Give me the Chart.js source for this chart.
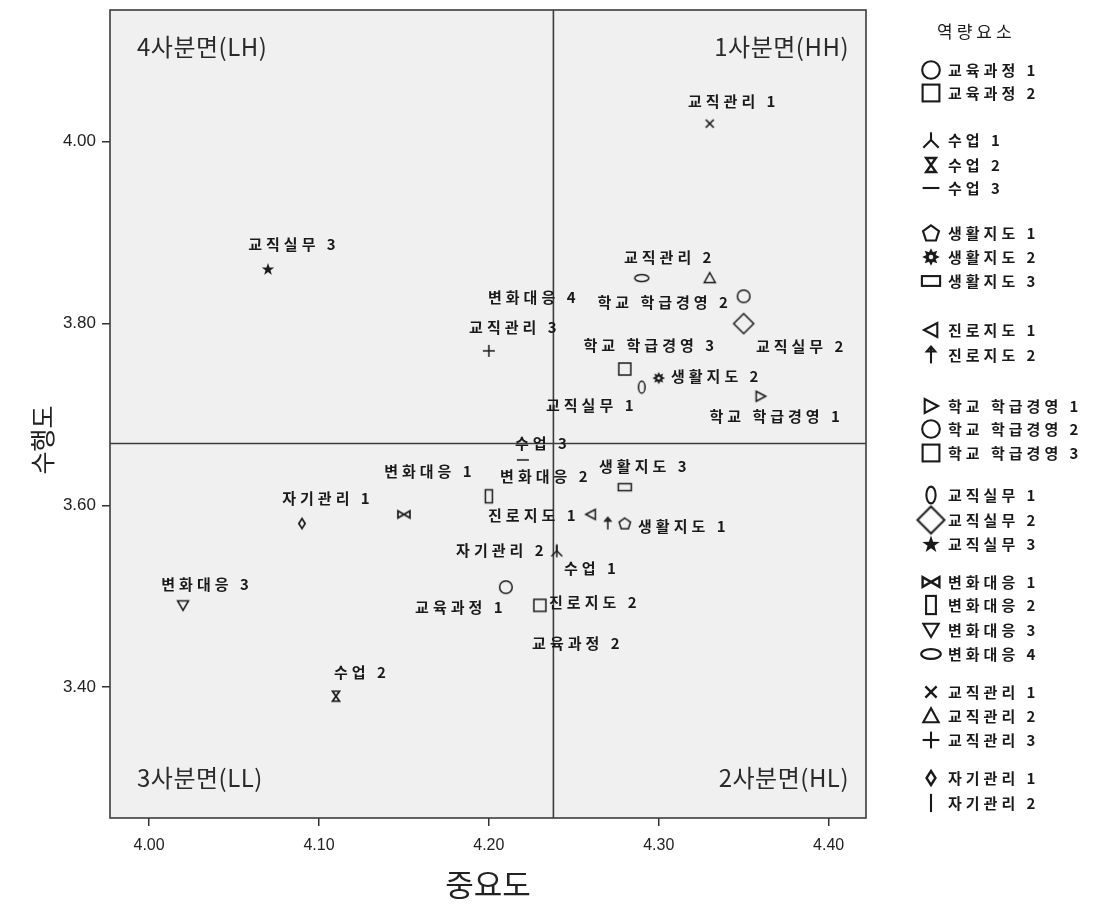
<!DOCTYPE html>
<html><head><meta charset="utf-8">
<script src="https://cdn.jsdelivr.net/npm/chart.js@4/dist/chart.umd.min.js"></script>
<style>html,body{margin:0;padding:0;background:#fff}#wrap{width:1100px;height:904px;position:relative}</style>
</head><body><div id="wrap"><canvas id="c" width="1100" height="904"></canvas></div>
<script>
// ---------- data ----------
const categories = ['교육과정 1','교육과정 2','수업 1','수업 2','수업 3','생활지도 1','생활지도 2','생활지도 3','진로지도 1','진로지도 2','학교 학급경영 1','학교 학급경영 2','학교 학급경영 3','교직실무 1','교직실무 2','교직실무 3','변화대응 1','변화대응 2','변화대응 3','변화대응 4','교직관리 1','교직관리 2','교직관리 3','자기관리 1','자기관리 2'];
const importance  = [4.21,4.23,4.24,4.11,4.22,4.28,4.30,4.28,4.26,4.27,4.36,4.35,4.28,4.29,4.35,4.07,4.15,4.20,4.02,4.29,4.33,4.33,4.20,4.09,4.24];
const performance = [3.51,3.49,3.55,3.39,3.65,3.58,3.74,3.62,3.59,3.58,3.72,3.83,3.75,3.73,3.80,3.86,3.59,3.61,3.49,3.85,4.02,3.85,3.77,3.58,3.55];
const xTicks = [4.00,4.10,4.20,4.30,4.40];
const yTicks = [3.40,3.60,3.80,4.00];
const quadrantNames = ['1사분면(HH)','2사분면(HL)','3사분면(LL)','4사분면(LH)'];
const xTitle = '중요도';
const yTitle = '수행도';
const legendTitle = '역량요소';

// ---------- styles ----------
const markerKinds = ['circle','square','lambda','hourglass','dash','pentagon','gear','flatrect','triLeft','arrow','triRight','circle','square','zero','diamond','star','bowtie','tallrect','triDown','hellipse','cross','triUp','plus','smalldiamond','vbar'];
const labelOffsets = [[-47,20],[36,38],[33,18],[24,-24],[18,-17],[57,3],[56,-2],[18,-21],[-59,1],[-15,79],[14,20],[-81,6],[24,-24],[-52,18],[56,23],[24,-25],[24,-43],[55,-20],[22,-21],[-110,19],[22,-22],[-42,-21],[24,-24],[24,-25],[-57,0]];
const legendRowsY = [70,93,140,165,188,233,257,281,330,355,406,429,453,495,520,544,582,605,630,654,692,716,740,778,803];
const INK = '#1a1a1a';
const LABEL_FONT = 'bold 15px "Noto Sans CJK KR", "Noto Sans", sans-serif';

function makeMarker(kind, s) {
  const S = Math.ceil(30 * s), c = S / 2;
  const cv = document.createElement('canvas');
  cv.width = S; cv.height = S;
  const g = cv.getContext('2d');
  g.translate(c, c); g.scale(s, s);
  g.strokeStyle = INK; g.fillStyle = INK; g.lineWidth = 1.5; g.lineJoin = 'miter';
  const poly = (pts, fill) => { g.beginPath(); pts.forEach((p, i) => i ? g.lineTo(p[0], p[1]) : g.moveTo(p[0], p[1])); g.closePath(); fill ? g.fill() : g.stroke(); };
  const line = (a, b, c2, d) => { g.beginPath(); g.moveTo(a, b); g.lineTo(c2, d); g.stroke(); };
  switch (kind) {
    case 'circle': g.beginPath(); g.arc(0, 0, 6.3, 0, Math.PI * 2); g.stroke(); break;
    case 'square': g.strokeRect(-6, -6, 12, 12); break;
    case 'lambda': line(0, -5.5, 0, 0.5); line(0, 0, -5.5, 5.5); line(0, 0, 5.5, 5.5); break;
    case 'hourglass': g.lineWidth = 1.7; poly([[-3.5, -5], [3.5, -5], [-3.5, 5], [3.5, 5]]); break;
    case 'dash': line(-6, 0, 6, 0); break;
    case 'pentagon': { const p = []; for (let k = 0; k < 5; k++) { const a = -Math.PI / 2 + k * 2 * Math.PI / 5; p.push([6 * Math.cos(a), 6 * Math.sin(a) + 0.5]); } poly(p); break; }
    case 'gear': { const p = []; for (let k = 0; k < 16; k++) { const a = k * Math.PI / 8; const r = k % 2 ? 3.6 : 6.3; p.push([r * Math.cos(a), r * Math.sin(a)]); } poly(p, true); g.fillStyle = '#f0f0f0'; g.beginPath(); g.arc(0, 0, 1.6, 0, Math.PI * 2); g.fill(); break; }
    case 'flatrect': g.strokeRect(-6.5, -3.5, 13, 7); break;
    case 'triLeft': poly([[-5, 0], [4.5, -5], [4.5, 5]]); break;
    case 'arrow': line(0, 6, 0, -5.5); poly([[-3, -2.5], [0, -6], [3, -2.5]]); break;
    case 'triRight': poly([[5, 0], [-4.5, -5], [-4.5, 5]]); break;
    case 'zero': g.beginPath(); g.ellipse(0, 0, 3.3, 6, 0, 0, Math.PI * 2); g.stroke(); break;
    case 'diamond': poly([[0, -10], [10, 0], [0, 10], [-10, 0]]); break;
    case 'star': { const p = []; for (let k = 0; k < 10; k++) { const a = -Math.PI / 2 + k * Math.PI / 5; const r = k % 2 ? 2.6 : 6.5; p.push([r * Math.cos(a), r * Math.sin(a) + 0.5]); } poly(p, true); break; }
    case 'bowtie': g.lineWidth = 1.7; poly([[-6, -3.5], [6, 3.5], [6, -3.5], [-6, 3.5]]); break;
    case 'tallrect': g.strokeRect(-3.5, -6.5, 7, 13); break;
    case 'triDown': poly([[-5.5, -4.5], [5.5, -4.5], [0, 5]]); break;
    case 'hellipse': g.beginPath(); g.ellipse(0, 0, 7, 3.5, 0, 0, Math.PI * 2); g.stroke(); break;
    case 'cross': g.lineWidth = 1.7; line(-4, -4, 4, 4); line(4, -4, -4, 4); break;
    case 'triUp': poly([[0, -5.5], [5.5, 4.5], [-5.5, 4.5]]); break;
    case 'plus': line(-6, 0, 6, 0); line(0, -6, 0, 6); break;
    case 'smalldiamond': g.lineWidth = 1.7; poly([[0, -5], [3.2, 0], [0, 5], [-3.2, 0]]); break;
    case 'vbar': line(0, -6.5, 0, 6.5); break;
  }
  return cv;
}
const plotMarkers = markerKinds.map(k => makeMarker(k, 1));
const legendMarkers = markerKinds.map(k => makeMarker(k, k === 'diamond' ? 1.35 : 1.4));

const datasets = categories.map((name, i) => ({
  label: name,
  data: [{ x: importance[i], y: performance[i] }],
  pointStyle: plotMarkers[i],
  pointRadius: 7,
  pointHoverRadius: 7
}));

const mean = a => a.reduce((s, v) => s + v, 0) / a.length;
const meanX = mean(importance), meanY = mean(performance);

const decor = {
  id: 'decor',
  beforeDatasetsDraw(chart) {
    const { ctx, chartArea: a, scales: { x, y } } = chart;
    ctx.save();
    ctx.fillStyle = '#f0f0f0';
    ctx.fillRect(a.left, a.top, a.right - a.left, a.bottom - a.top);
    ctx.strokeStyle = '#3c3c3c'; ctx.lineWidth = 1.6;
    const mx = x.getPixelForValue(meanX), my = y.getPixelForValue(meanY);
    ctx.beginPath(); ctx.moveTo(mx, a.top); ctx.lineTo(mx, a.bottom); ctx.moveTo(a.left, my); ctx.lineTo(a.right, my); ctx.stroke();
    // quadrant names
    ctx.fillStyle = '#2a2a2a'; ctx.font = '24px "Noto Sans CJK KR", "Noto Sans", sans-serif';
    ctx.letterSpacing = '0.5px';
    ctx.textBaseline = 'middle';
    ctx.textAlign = 'right'; ctx.fillText(quadrantNames[0], a.right - 17, a.top + 37);
    ctx.fillText(quadrantNames[1], a.right - 17, a.bottom - 40);
    ctx.textAlign = 'left'; ctx.fillText(quadrantNames[2], a.left + 27, a.bottom - 40);
    ctx.fillText(quadrantNames[3], a.left + 27, a.top + 37);
    ctx.restore();
  },
  afterDatasetsDraw(chart) {
    const { ctx, chartArea: a } = chart;
    ctx.save();
    // point labels
    ctx.fillStyle = INK; ctx.font = LABEL_FONT; ctx.textAlign = 'center'; ctx.textBaseline = 'middle';
    ctx.letterSpacing = '4px';
    categories.forEach((name, i) => {
      const el = chart.getDatasetMeta(i).data[0];
      ctx.fillText(name, el.x + labelOffsets[i][0] + 2, el.y + labelOffsets[i][1]);
    });
    // border
    ctx.strokeStyle = '#3c3c3c'; ctx.lineWidth = 1.6;
    ctx.strokeRect(a.left, a.top, a.right - a.left, a.bottom - a.top);
    // y title
    ctx.letterSpacing = '0px';
    ctx.fillStyle = '#222'; ctx.font = '25px "Noto Sans CJK KR", sans-serif';
    ctx.translate(42, 440); ctx.rotate(-Math.PI / 2);
    ctx.fillText(yTitle, 0, 0);
    ctx.restore();
    // legend
    ctx.save();
    ctx.fillStyle = INK; ctx.textBaseline = 'middle'; ctx.textAlign = 'left';
    ctx.font = '17px "Noto Sans CJK KR", sans-serif'; ctx.letterSpacing = '4px';
    ctx.fillText(legendTitle, 937, 32);
    ctx.font = 'bold 15px "Noto Sans CJK KR", sans-serif'; ctx.letterSpacing = '4px';
    categories.forEach((name, i) => {
      const m = legendMarkers[i], yy = legendRowsY[i];
      ctx.drawImage(m, 931 - m.width / 2, yy - m.height / 2);
      ctx.fillText(name, 948, yy);
    });
    ctx.restore();
  }
};

new Chart(document.getElementById('c'), {
  type: 'scatter',
  data: { datasets },
  plugins: [decor],
  options: {
    responsive: false, animation: false, devicePixelRatio: 1,
    layout: { padding: { left: 0, top: 10, right: 234, bottom: 0 } },
    plugins: { legend: { display: false }, tooltip: { enabled: false } },
    scales: {
      x: {
        type: 'linear', min: 3.977, max: 4.422,
        afterBuildTicks: s => { s.ticks = xTicks.map(v => ({ value: v })); },
        afterFit: s => { s.height = 86; s.paddingLeft = 0; s.paddingRight = 0; },
        grid: { drawOnChartArea: false, drawTicks: true, tickLength: 8, color: '#333', lineWidth: 1.5 },
        border: { display: false },
        ticks: { callback: v => v.toFixed(2), color: '#222', padding: 10, font: { family: '"Liberation Sans Narrow", "Liberation Sans", Arial, sans-serif', size: 16 } },
        title: { display: true, text: xTitle, color: '#222', font: { family: '"Noto Sans CJK KR", sans-serif', size: 31 }, padding: { top: 0, bottom: 1 } }
      },
      y: {
        type: 'linear', min: 3.256, max: 4.145,
        afterBuildTicks: s => { s.ticks = yTicks.map(v => ({ value: v })); },
        afterFit: s => { s.width = 110; s.paddingTop = 0; s.paddingBottom = 0; },
        grid: { drawOnChartArea: false, drawTicks: true, tickLength: 8, color: '#333', lineWidth: 1.5 },
        border: { display: false },
        ticks: { callback: v => v.toFixed(2), color: '#222', padding: 6, font: { family: '"Liberation Sans", Arial, sans-serif', size: 17 } }
      }
    }
  }
});
</script>
</body></html>
